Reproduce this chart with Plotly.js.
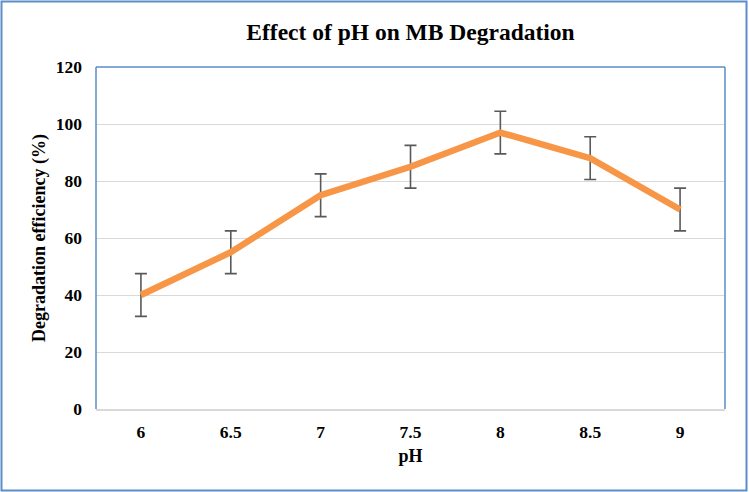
<!DOCTYPE html>
<html><head><meta charset="utf-8">
<script src="https://cdn.plot.ly/plotly-3.0.1.min.js"></script>
<style>html,body{margin:0;padding:0;background:#fff}#chart{width:749px;height:492px}</style>
</head><body><div id="chart"></div>
<script>
const phLabels = ["6","6.5","7","7.5","8","8.5","9"];
const efficiency = [40, 55, 75, 85, 97, 88, 70];
const errorVals = [7.5, 7.5, 7.5, 7.5, 7.5, 7.5, 7.5];
const yTicks = [0, 20, 40, 60, 80, 100, 120];

const L = 96, R = 24, T = 67, B = 83, W = 749, H = 492;
const pw = W - L - R, ph = H - T - B;
const px = v => (v - L) / pw, py = v => (H - B - v) / ph;
const serif = "Liberation Serif, Times New Roman, serif";
const blue = "#5b8dc9";

const trace = {
  x: phLabels, y: efficiency, type: "scatter", mode: "lines",
  line: {color: "#f79646", width: 6.5},
  error_y: {type: "data", array: errorVals, visible: true, color: "#595959", thickness: 1.6, width: 6},
  hoverinfo: "none"
};
const layout = {
  width: W, height: H,
  margin: {l: L, r: R, t: T, b: B},
  paper_bgcolor: "#fff", plot_bgcolor: "#fff",
  showlegend: false,
  title: {text: "<b>Effect of pH on MB Degradation</b>", x: 0.5, xref: "paper", y: 1 - 32/492, yref: "container", yanchor: "middle",
          font: {family: serif, size: 23.5, color: "#000"}},
  xaxis: {type: "category", range: [-0.5, 6.5], showgrid: false, showline: true, linecolor: "#d9d9d9", linewidth: 2,
          ticks: "", ticklabelstandoff: 6, tickfont: {family: serif, size: 17.5, color: "#000", weight: "bold"},
          title: {text: "<b>pH</b>", font: {family: serif, size: 18, color: "#000"}, standoff: 8}},
  yaxis: {range: [0, 120], tickvals: yTicks, ticktext: yTicks.map(String), showgrid: true, gridcolor: "#d9d9d9", gridwidth: 1,
          zeroline: false, showline: false, ticks: "", ticklabelstandoff: 13,
          tickfont: {family: serif, size: 17.5, color: "#000", weight: "bold"},
          title: {text: "<b>Degradation efficiency (%)</b>", font: {family: serif, size: 18, color: "#000"}, standoff: 5}},
  shapes: [
    {type: "line", xref: "paper", yref: "paper", x0: 0, x1: 1, y0: 1, y1: 1, line: {color: blue, width: 1.5}},
    {type: "line", xref: "paper", yref: "paper", x0: 0, x1: 0, y0: 0, y1: 1, line: {color: blue, width: 1.5}},
    {type: "line", xref: "paper", yref: "paper", x0: 1, x1: 1, y0: 0, y1: 1, line: {color: blue, width: 1.5}},
    {type: "rect", xref: "paper", yref: "paper", x0: px(1.5), x1: px(746.5), y0: py(490.5), y1: py(1.5),
     line: {color: blue, width: 2}}
  ]
};
Plotly.newPlot("chart", [trace], layout, {displayModeBar: false, staticPlot: true});
</script></body></html>
